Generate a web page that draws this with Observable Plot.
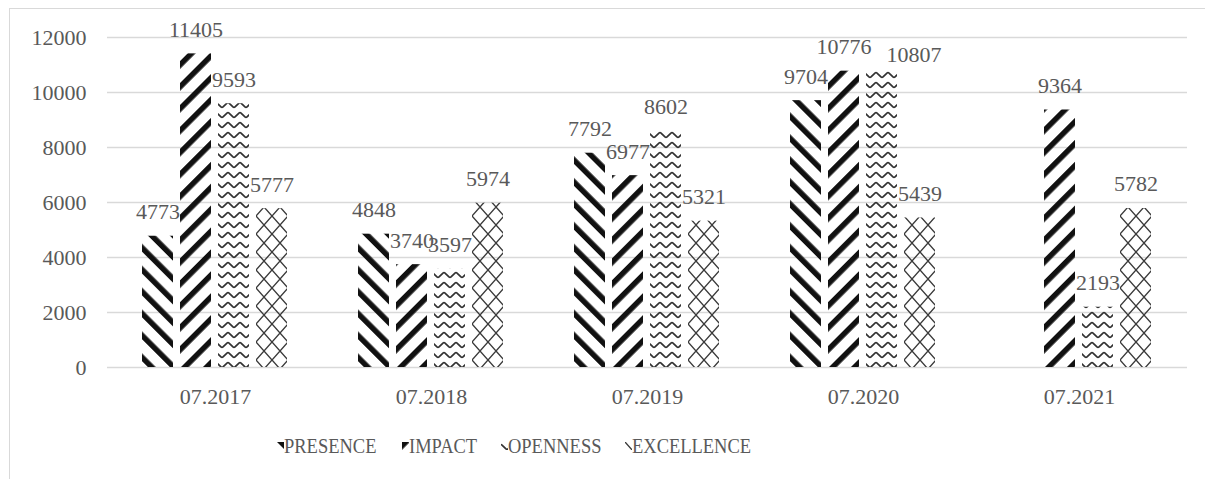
<!DOCTYPE html>
<html>
<head>
<meta charset="utf-8">
<script src="https://cdn.jsdelivr.net/npm/d3@7"></script>
<script src="https://cdn.jsdelivr.net/npm/@observablehq/plot@0.6"></script>
<style>
  html, body { margin: 0; padding: 0; background: #fff; width: 1205px; height: 479px; overflow: hidden; }
  #frame { position: absolute; left: 9px; top: 8px; width: 1220px; height: 500px; border: 1px solid #d9d9d9; box-sizing: border-box; }
  #chart { position: absolute; left: 0; top: 0; }
  #chart svg, #chart svg text, #chart svg g { font-family: "Liberation Serif", "Times New Roman", serif !important; }
  #legend { position: absolute; left: 277px; top: 433px; display: flex; align-items: center; font-family: "Liberation Serif", "Times New Roman", serif; font-size: 22px; color: #595959; }
  #legend .item { display: flex; align-items: center; }
  #legend .item span { display: inline-block; transform: scaleX(0.84); transform-origin: left center; }
  #legend svg { display: block; }
</style>
</head>
<body>
<svg width="0" height="0" style="position:absolute">
  <defs>
    <pattern id="pat-PRESENCE" patternUnits="userSpaceOnUse" width="15.5" height="15.5" patternTransform="rotate(-45)">
      <rect x="0" y="0" width="5.5" height="15.5" fill="#111"></rect>
    </pattern>
    <pattern id="pat-IMPACT" patternUnits="userSpaceOnUse" width="15.5" height="15.5" patternTransform="rotate(45)">
      <rect x="0" y="0" width="5.5" height="15.5" fill="#111"></rect>
    </pattern>
    <pattern id="pat-OPENNESS" patternUnits="userSpaceOnUse" width="12" height="10">
      <path d="M-3,6.5 L-0.8,3 Q0,2 0.8,3 L5.2,7 Q6,8 6.8,7 L11.2,3 Q12,2 12.8,3 L15,5" fill="none" stroke="#333" stroke-width="1.7"></path>
    </pattern>
    <pattern id="pat-EXCELLENCE" patternUnits="userSpaceOnUse" width="16" height="18">
      <path d="M-2,-2.25 L18,20.25 M18,-2.25 L-2,20.25" fill="none" stroke="#3a3a3a" stroke-width="1.4"></path>
    </pattern>
  </defs>
</svg>
<div id="frame"></div>
<div id="chart"></div>
<div id="legend"></div>
<script>
const years = ["07.2017", "07.2018", "07.2019", "07.2020", "07.2021"];
const series = ["PRESENCE", "IMPACT", "OPENNESS", "EXCELLENCE"];
const presence = [4773, 4848, 7792, 9704, null];
const impact = [11405, 3740, 6977, 10776, 9364];
const openness = [9593, 3597, 8602, 10807, 2193];
const excellence = [5777, 5974, 5321, 5439, 5782];
const yTicks = [0, 2000, 4000, 6000, 8000, 10000, 12000];

const valuesBySeries = {PRESENCE: presence, IMPACT: impact, OPENNESS: openness, EXCELLENCE: excellence};
const rows = [];
series.forEach(s => years.forEach((y, i) => {
  const v = valuesBySeries[s][i];
  if (v != null) rows.push({year: y, series: s, value: v});
}));

// label nudges (styling only): the reference moves one label aside to avoid a collision
const nudged = d => d.year === "07.2020" && d.series === "OPENNESS";

const font = '"Liberation Serif", "Times New Roman", serif';
const textColor = "#595959";

const barMarks = series.map(s => Plot.barY(rows.filter(d => d.series === s), {
  fx: "year", x: "series", y: "value", fill: `url(#pat-${s})`
}));

const chart = Plot.plot({
  width: 1205,
  height: 420,
  marginLeft: 107,
  marginRight: 18,
  marginTop: 37,
  marginBottom: 53,
  style: {fontFamily: font, fontSize: "22px", color: textColor, background: "transparent"},
  fx: {domain: years, padding: 0, label: null, axis: "bottom", tickSize: 0, tickPadding: 21},
  x: {domain: series, paddingInner: 0.18, paddingOuter: 0.86, axis: null},
  y: {domain: [0, 12000], ticks: yTicks, tickSize: 0, tickPadding: 21, label: null, tickFormat: d => String(d)},
  marks: [
    Plot.ruleY(yTicks, {stroke: "#d9d9d9", strokeWidth: 1.3}),
    ...barMarks,
    Plot.text(rows.filter(d => !nudged(d)), {fx: "year", x: "series", y: "value", text: d => String(d.value),
      lineAnchor: "bottom", dy: -17, fill: textColor, fontSize: 22}),
    Plot.text(rows.filter(nudged), {fx: "year", x: "series", y: "value", text: d => String(d.value),
      lineAnchor: "bottom", dy: -8, dx: 32, fill: textColor, fontSize: 22})
  ]
});
document.getElementById("chart").appendChild(chart);

const legend = document.getElementById("legend");
const gaps = [26, 23, 24, 0];
series.forEach((s, i) => {
  const item = document.createElement("div");
  item.className = "item";
  item.style.marginRight = gaps[i] + "px";
  const sw = document.createElementNS("http://www.w3.org/2000/svg", "svg");
  sw.setAttribute("width", "7");
  sw.setAttribute("height", "8");
  const r = document.createElementNS("http://www.w3.org/2000/svg", "rect");
  r.setAttribute("width", "7");
  r.setAttribute("height", "8");
  r.setAttribute("fill", `url(#pat-${s})`);
  sw.appendChild(r);
  item.appendChild(sw);
  const t = document.createElement("span");
  t.textContent = s;
  item.appendChild(t);
  legend.appendChild(item);
});
document.querySelectorAll("#legend .item span").forEach(sp => {
  const w = sp.getBoundingClientRect().width;
  sp.style.marginRight = (w - sp.offsetWidth) + "px";
});
</script>
</body>
</html>
